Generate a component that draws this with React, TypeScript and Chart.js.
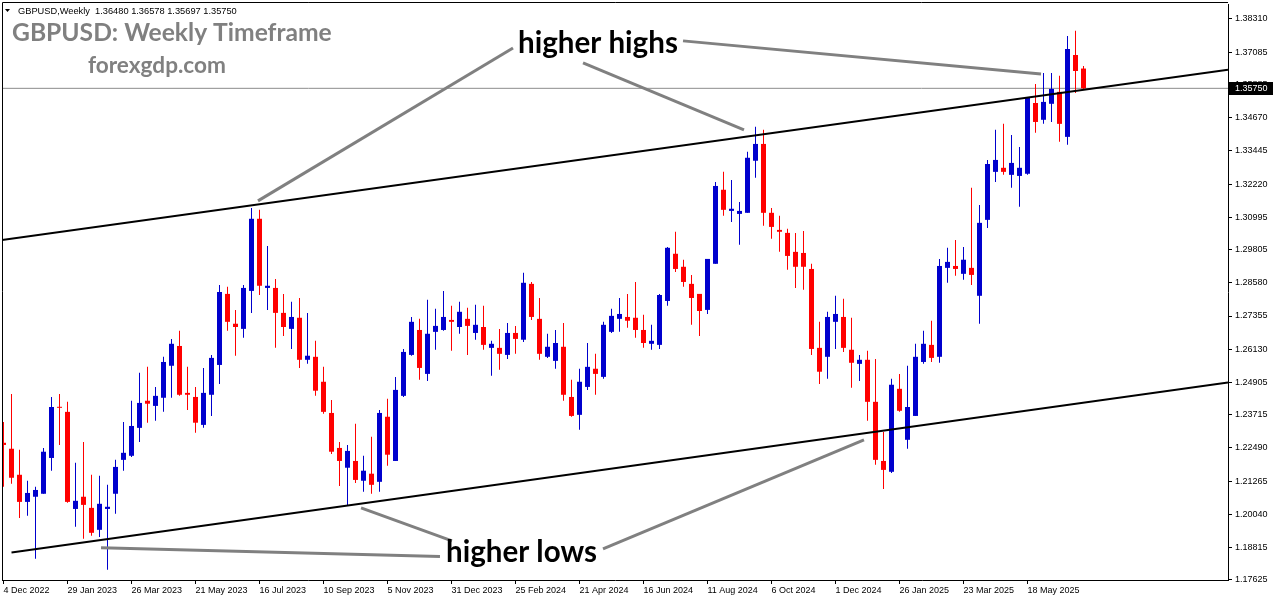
import React, { useEffect, useRef } from 'react';
import { Chart, registerables } from 'chart.js';

Chart.register(...registerables);

// Weekly GBPUSD candles, week 0 = 4 Dec 2022
const opens = [
  1.2268, 1.2246, 1.2150, 1.2050, 1.2069, 1.2080, 1.2212, 1.2400, 1.2382, 1.2024,
  1.2069, 1.2028, 1.1947, 1.2024, 1.2080, 1.2205, 1.2220, 1.2323, 1.2423, 1.2404,
  1.2434, 1.2552, 1.2625, 1.2452, 1.2437, 1.2334, 1.2445, 1.2555, 1.2817, 1.2707,
  1.2688, 1.2828, 1.3094, 1.2839, 1.2839, 1.2747, 1.2688, 1.2729, 1.2574, 1.2585,
  1.2493, 1.2378, 1.2249, 1.2176, 1.2201, 1.2128, 1.2154, 1.2124, 1.2364, 1.2201,
  1.2441, 1.2592, 1.2684, 1.2522, 1.2677, 1.2684, 1.2721, 1.2695, 1.2725, 1.2673,
  1.2695, 1.2618, 1.2618, 1.2592, 1.2673, 1.2648, 1.2854, 1.2725, 1.2585, 1.2570,
  1.2622, 1.2437, 1.2371, 1.2474, 1.2541, 1.2511, 1.2677, 1.2725, 1.2732, 1.2729,
  1.2684, 1.2633, 1.2629, 1.2791, 1.2965, 1.2917, 1.2854, 1.2817, 1.2758, 1.2928,
  1.3201, 1.3123, 1.3112, 1.3116, 1.3308, 1.3370, 1.3116, 1.3053, 1.3042, 1.2972,
  1.2968, 1.2909, 1.2618, 1.2585, 1.2714, 1.2732, 1.2611, 1.2559, 1.2574, 1.2419,
  1.2201, 1.2161, 1.2467, 1.2279, 1.2367, 1.2566, 1.2629, 1.2585, 1.2913, 1.2920,
  1.2891, 1.2913, 1.2810, 1.3090, 1.3267, 1.3282, 1.3256, 1.3252, 1.3260, 1.3521,
  1.3459, 1.3518, 1.3562, 1.3396, 1.3698, 1.3648,
];
const highs = [
  1.2345, 1.2448, 1.2242, 1.2128, 1.2106, 1.2249, 1.2437, 1.2448, 1.2419, 1.2194,
  1.2271, 1.2150, 1.2146, 1.2113, 1.2205, 1.2345, 1.2423, 1.2526, 1.2548, 1.2474,
  1.2585, 1.2651, 1.2681, 1.2548, 1.2474, 1.2544, 1.2592, 1.2850, 1.2843, 1.2758,
  1.2850, 1.3134, 1.3127, 1.2994, 1.2872, 1.2817, 1.2788, 1.2802, 1.2747, 1.2644,
  1.2548, 1.2426, 1.2271, 1.2260, 1.2338, 1.2220, 1.2290, 1.2389, 1.2430, 1.2511,
  1.2614, 1.2732, 1.2725, 1.2795, 1.2762, 1.2828, 1.2773, 1.2788, 1.2766, 1.2777,
  1.2773, 1.2644, 1.2688, 1.2710, 1.2699, 1.2895, 1.2861, 1.2802, 1.2670, 1.2684,
  1.2710, 1.2500, 1.2541, 1.2636, 1.2596, 1.2714, 1.2762, 1.2802, 1.2817, 1.2861,
  1.2740, 1.2703, 1.2817, 1.2990, 1.3046, 1.2943, 1.2887, 1.2817, 1.2946, 1.3230,
  1.3267, 1.3237, 1.3156, 1.3341, 1.3433, 1.3422, 1.3134, 1.3105, 1.3057, 1.3042,
  1.3049, 1.2928, 1.2714, 1.2751, 1.2810, 1.2799, 1.2729, 1.2592, 1.2607, 1.2577,
  1.2308, 1.2504, 1.2522, 1.2552, 1.2633, 1.2681, 1.2718, 1.2946, 1.2987, 1.3016,
  1.2990, 1.3208, 1.3145, 1.3311, 1.3422, 1.3444, 1.3403, 1.3359, 1.3543, 1.3591,
  1.3632, 1.3632, 1.3621, 1.3768, 1.3787, 1.36578,
];
const lows = [
  1.2106, 1.2117, 1.1991, 1.1999, 1.1840, 1.2080, 1.2165, 1.2260, 1.2047, 1.1958,
  1.1914, 1.1925, 1.1921, 1.1800, 1.2006, 1.2165, 1.2216, 1.2271, 1.2342, 1.2349,
  1.2382, 1.2434, 1.2441, 1.2389, 1.2305, 1.2323, 1.2367, 1.2485, 1.2681, 1.2589,
  1.2655, 1.2747, 1.2813, 1.2758, 1.2618, 1.2662, 1.2614, 1.2544, 1.2559, 1.2441,
  1.2375, 1.2227, 1.2109, 1.2035, 1.2120, 1.2087, 1.2080, 1.2087, 1.2183, 1.2201,
  1.2437, 1.2589, 1.2500, 1.2496, 1.2611, 1.2681, 1.2607, 1.2670, 1.2592, 1.2648,
  1.2611, 1.2515, 1.2537, 1.2577, 1.2596, 1.2640, 1.2721, 1.2574, 1.2581, 1.2541,
  1.2423, 1.2364, 1.2316, 1.2463, 1.2445, 1.2504, 1.2673, 1.2677, 1.2692, 1.2655,
  1.2618, 1.2611, 1.2614, 1.2773, 1.2898, 1.2843, 1.2703, 1.2662, 1.2743, 1.2928,
  1.3105, 1.3082, 1.2998, 1.3116, 1.3245, 1.3068, 1.3020, 1.2972, 1.2906, 1.2839,
  1.2832, 1.2592, 1.2485, 1.2504, 1.2614, 1.2603, 1.2471, 1.2496, 1.2349, 1.2187,
  1.2098, 1.2157, 1.2382, 1.2246, 1.2367, 1.2559, 1.2566, 1.2563, 1.2858, 1.2884,
  1.2869, 1.2850, 1.2707, 1.3060, 1.3230, 1.3256, 1.3208, 1.3138, 1.3256, 1.3411,
  1.3444, 1.3451, 1.3378, 1.3367, 1.3558, 1.35697,
];
const closes = [
  1.2260, 1.2139, 1.2050, 1.2083, 1.2094, 1.2235, 1.2400, 1.2397, 1.2050, 1.2054,
  1.2039, 1.1936, 1.2043, 1.2032, 1.2179, 1.2231, 1.2330, 1.2415, 1.2412, 1.2441,
  1.2566, 1.2633, 1.2445, 1.2445, 1.2342, 1.2452, 1.2581, 1.2824, 1.2714, 1.2695,
  1.2839, 1.3094, 1.2847, 1.2847, 1.2747, 1.2695, 1.2732, 1.2574, 1.2589, 1.2460,
  1.2382, 1.2235, 1.2201, 1.2238, 1.2131, 1.2165, 1.2113, 1.2378, 1.2224, 1.2463,
  1.2603, 1.2714, 1.2544, 1.2670, 1.2699, 1.2732, 1.2714, 1.2751, 1.2699, 1.2703,
  1.2629, 1.2633, 1.2596, 1.2673, 1.2651, 1.2858, 1.2732, 1.2596, 1.2622, 1.2636,
  1.2445, 1.2367, 1.2493, 1.2548, 1.2522, 1.2703, 1.2736, 1.2743, 1.2718, 1.2684,
  1.2636, 1.2644, 1.2813, 1.2987, 1.2909, 1.2861, 1.2802, 1.2754, 1.2946, 1.3215,
  1.3127, 1.3131, 1.3123, 1.3319, 1.3370, 1.3116, 1.3064, 1.3046, 1.2957, 1.2917,
  1.2917, 1.2614, 1.2530, 1.2732, 1.2743, 1.2618, 1.2563, 1.2574, 1.2419, 1.2205,
  1.2168, 1.2482, 1.2386, 1.2400, 1.2585, 1.2633, 1.2581, 1.2920, 1.2935, 1.2909,
  1.2943, 1.2887, 1.3079, 1.3296, 1.3311, 1.3267, 1.3300, 1.3282, 1.3540, 1.3451,
  1.3525, 1.3573, 1.3444, 1.3720, 1.3639, 1.3575,
];

const xTickWeeks = [0, 8, 16, 24, 32, 40, 48, 56, 64, 72, 80, 88, 96, 104, 112, 120, 128];
const xTickLabels = [
  '4 Dec 2022', '29 Jan 2023', '26 Mar 2023', '21 May 2023', '16 Jul 2023', '10 Sep 2023',
  '5 Nov 2023', '31 Dec 2023', '25 Feb 2024', '21 Apr 2024', '16 Jun 2024', '11 Aug 2024',
  '6 Oct 2024', '1 Dec 2024', '26 Jan 2025', '23 Mar 2025', '18 May 2025',
];
const yTickValues = [
  1.3831, 1.37085, 1.35885, 1.3467, 1.33445, 1.3222, 1.30995, 1.29805, 1.2858,
  1.27355, 1.2613, 1.24905, 1.23715, 1.2249, 1.21265, 1.2004, 1.18815, 1.17625,
];

// Channel trend lines (week, price)
const upperTrend = [
  { x: -0.1875, y: 1.30158 },
  { x: 153.0625, y: 1.36433 },
];
const lowerTrend = [
  { x: 1, y: 1.18633 },
  { x: 153.0625, y: 1.24902 },
];

const lastClose = 1.3575;
const headerText = 'GBPUSD,Weekly  1.36480 1.36578 1.35697 1.35750';

// Connector lines from annotation labels (week, price)
const connectors: [number, number][][] = [
  [[31.81, 1.316], [63.69, 1.3724]],
  [[72.44, 1.3669], [92.56, 1.3422]],
  [[84.94, 1.375], [129.69, 1.3628]],
  [[12.19, 1.1881], [54.56, 1.1849]],
  [[44.69, 1.2028], [56.06, 1.1906]],
  [[74.94, 1.1877], [107.56, 1.2279]],
];
// Annotation texts: [text, week at left edge, baseline price, target width]
const annotations: [string, number, number, number][] = [
  ['higher highs', 64.31, 1.37057, 160],
  ['higher lows', 55.31, 1.1829, 151],
];

const X_MIN = -0.1875;
const X_MAX = 153.0625;
const Y_MIN = 1.1762;
const Y_MAX = 1.3886;

const BULL = '#0000CD';
const BEAR = '#FF0000';

function fitFont(ctx: CanvasRenderingContext2D, text: string, weight: string, family: string, width: number) {
  ctx.font = `${weight} 20px ${family}`;
  const w = ctx.measureText(text).width;
  const size = (20 * width) / w;
  ctx.font = `${weight} ${size}px ${family}`;
}

const overlayPlugin = {
  id: 'overlay',
  afterDraw(chart: any) {
    const { ctx, chartArea: ca } = chart;
    const xs = chart.scales.x;
    const ys = chart.scales.y;
    ctx.save();
    // frame (left & top)
    ctx.strokeStyle = '#000';
    ctx.lineWidth = 1;
    ctx.beginPath();
    ctx.moveTo(2.5, ca.bottom);
    ctx.lineTo(2.5, 2.5);
    ctx.lineTo(ca.right, 2.5);
    ctx.stroke();

    // connectors
    ctx.save();
    ctx.beginPath();
    ctx.rect(ca.left, ca.top, ca.right - ca.left, ca.bottom - ca.top);
    ctx.clip();
    ctx.strokeStyle = '#808080';
    ctx.lineWidth = 3;
    connectors.forEach(([a, b]) => {
      ctx.beginPath();
      ctx.moveTo(xs.getPixelForValue(a[0]), ys.getPixelForValue(a[1]));
      ctx.lineTo(xs.getPixelForValue(b[0]), ys.getPixelForValue(b[1]));
      ctx.stroke();
    });
    ctx.restore();

    // annotation labels
    ctx.fillStyle = '#000';
    ctx.textBaseline = 'alphabetic';
    ctx.textAlign = 'left';
    annotations.forEach(([t, wk, price, w]) => {
      fitFont(ctx, t, '700', 'Lato', w);
      ctx.fillText(t, xs.getPixelForValue(wk), ys.getPixelForValue(price));
    });

    // titles
    ctx.fillStyle = '#808080';
    fitFont(ctx, 'GBPUSD: Weekly Timeframe', '700', 'Lato', 320);
    ctx.fillText('GBPUSD: Weekly Timeframe', 12, 41);
    fitFont(ctx, 'forexgdp.com', '700', 'Lato', 138);
    ctx.fillText('forexgdp.com', 88, 73);

    // header
    ctx.fillStyle = '#000';
    ctx.beginPath();
    ctx.moveTo(5, 9);
    ctx.lineTo(10, 9);
    ctx.lineTo(7.5, 12);
    ctx.closePath();
    ctx.fill();
    fitFont(ctx, headerText, '400', '"Liberation Sans"', 219);
    ctx.fillText(headerText, 18, 14);

    // current price label
    const py = ys.getPixelForValue(lastClose);
    ctx.fillStyle = '#000';
    ctx.fillRect(ca.right + 1, Math.round(py) - 6, 44, 13);
    ctx.fillStyle = '#fff';
    ctx.font = '9px "Liberation Sans"';
    ctx.textBaseline = 'middle';
    ctx.fillText(lastClose.toFixed(5), ca.right + 7, py + 0.5);
    ctx.restore();
  },
};

export default function App() {
  const ref = useRef<HTMLCanvasElement | null>(null);

  useEffect(() => {
    document.body.style.margin = '0';
    const canvas = ref.current;
    if (!canvas) return;
    const idx = opens.map((_, i) => i);
    const colorOf = (i: number) => (closes[i] >= opens[i] ? BULL : BEAR);
    const bodyData = idx.map((i) => ({ x: i, y: [opens[i], closes[i]] }));
    const wickData = idx.map((i) => ({ x: i, y: [lows[i], highs[i]] }));

    const tickFont = { family: '"Liberation Sans"', size: 9 };

    const chart = new Chart(canvas, {
      type: 'bar',
      data: {
        datasets: [
          {
            type: 'line',
            data: [
              { x: X_MIN, y: lastClose },
              { x: X_MAX, y: lastClose },
            ],
            borderColor: '#8c8c8c',
            borderWidth: 1,
            pointRadius: 0,
            order: 4,
          } as any,
          {
            type: 'bar',
            data: wickData,
            backgroundColor: (c: any) => colorOf(c.dataIndex),
            barThickness: 1,
            grouped: false,
            inflateAmount: 0,
            order: 3,
          } as any,
          {
            type: 'bar',
            data: bodyData,
            backgroundColor: (c: any) => colorOf(c.dataIndex),
            barThickness: 5,
            grouped: false,
            inflateAmount: 0,
            minBarLength: 1,
            order: 2,
          } as any,
          {
            type: 'line',
            data: upperTrend,
            borderColor: '#000',
            borderWidth: 2,
            pointRadius: 0,
            order: 1,
          } as any,
          {
            type: 'line',
            data: lowerTrend,
            borderColor: '#000',
            borderWidth: 2,
            pointRadius: 0,
            order: 1,
          } as any,
        ],
      },
      options: {
        animation: false,
        responsive: false,
        devicePixelRatio: 1,
        events: [],
        layout: { padding: { left: 2, top: 4, right: 0, bottom: 0 } },
        plugins: { legend: { display: false }, tooltip: { enabled: false } },
        scales: {
          x: {
            type: 'linear',
            min: X_MIN,
            max: X_MAX,
            offset: false,
            afterBuildTicks: (s: any) => {
              s.ticks = xTickWeeks.map((v) => ({ value: v }));
            },
            afterFit: (s: any) => {
              s.height = 24;
              s.paddingLeft = 0;
              s.paddingRight = 0;
            },
            ticks: {
              autoSkip: false,
              maxRotation: 0,
              minRotation: 0,
              align: 'start',
              padding: 1,
              color: '#000',
              font: tickFont,
              callback: (v: any) => xTickLabels[xTickWeeks.indexOf(Number(v))],
            },
            grid: {
              display: true,
              drawOnChartArea: false,
              drawTicks: true,
              tickLength: 4,
              color: '#000',
              offset: false,
            },
            border: { display: true, color: '#000', width: 1 },
          },
          y: {
            type: 'linear',
            position: 'right',
            min: Y_MIN,
            max: Y_MAX,
            afterBuildTicks: (s: any) => {
              s.ticks = yTickValues.map((v) => ({ value: v }));
            },
            afterFit: (s: any) => {
              s.width = 48;
              s.paddingTop = 0;
              s.paddingBottom = 0;
            },
            ticks: {
              padding: 3,
              color: '#000',
              font: tickFont,
              callback: (v: any) => Number(v).toFixed(5),
            },
            grid: {
              display: true,
              drawOnChartArea: false,
              drawTicks: true,
              tickLength: 4,
              color: '#000',
            },
            border: { display: true, color: '#000', width: 1 },
          },
        },
      } as any,
      plugins: [overlayPlugin],
    });
    return () => chart.destroy();
  }, []);

  return (
    <div style={{ position: 'fixed', left: 0, top: 0, width: 1276, height: 604, background: '#fff' }}>
      <canvas ref={ref} width={1276} height={604} style={{ display: 'block' }} />
    </div>
  );
}
